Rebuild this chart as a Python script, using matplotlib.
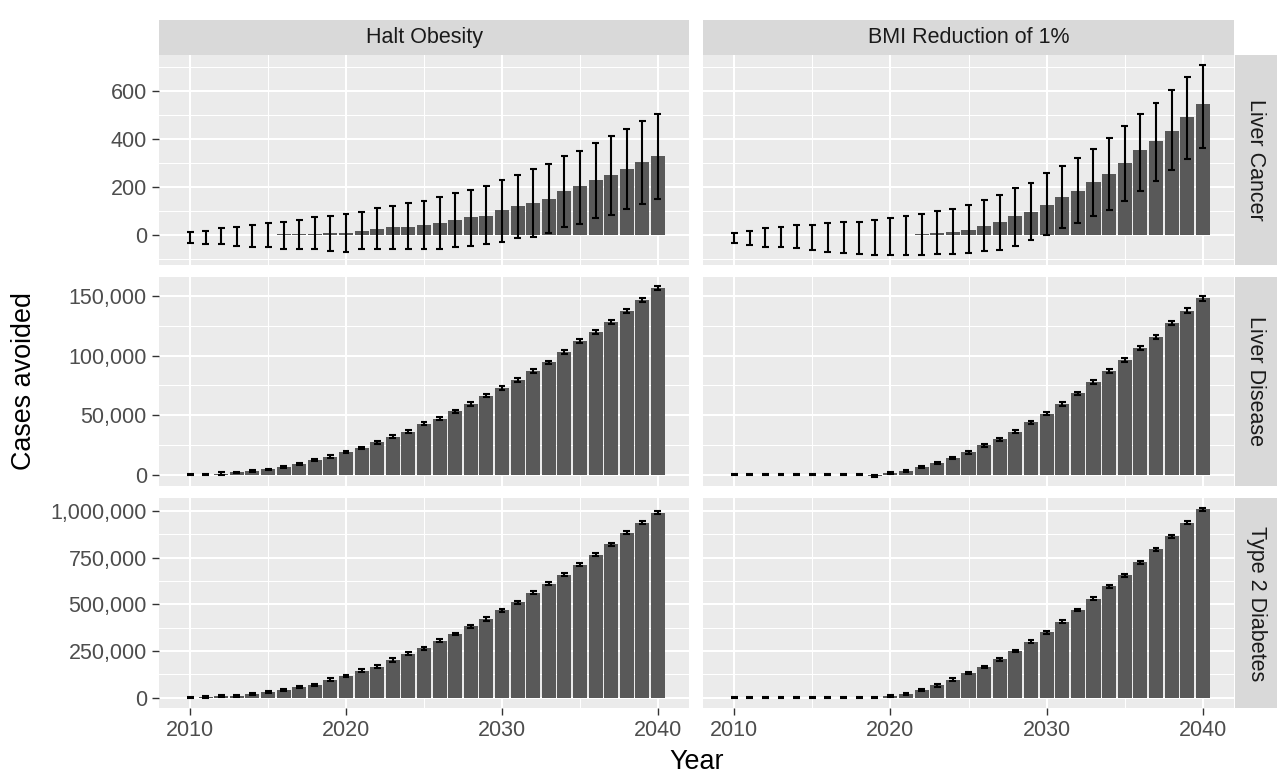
import matplotlib
matplotlib.use('Agg')
import matplotlib.pyplot as plt
from matplotlib.ticker import FuncFormatter, MultipleLocator
import numpy as np

plt.rcParams['font.family'] = ['Liberation Sans', 'DejaVu Sans']

# ---- data ----
years = np.arange(2010, 2041)

scenarios = ['Halt Obesity', 'BMI Reduction of 1%']
outcomes = ['Liver Cancer', 'Liver Disease', 'Type 2 Diabetes']

# Liver cancer: mean with explicit lower / upper interval
lc_halt = [0, 0, 0, 0, 0, 0, 3, 3, 3, 8, 8, 18, 25, 34, 34, 42, 49, 64, 74, 80,
           104, 119, 133, 151, 182, 203, 227, 250, 273, 304, 327]
lc_halt_lo = [-32, -39, -39, -46, -52, -52, -60, -60, -60, -67, -70, -60, -60, -60, -60, -60,
              -60, -50, -45, -38, -29, -11, -7, 7, 32, 46, 70, 84, 109, 129, 151]
lc_halt_hi = [11, 17, 28, 35, 42, 49, 56, 64, 73, 81, 87, 95, 111, 119, 133, 140,
              157, 173, 189, 203, 227, 250, 273, 294, 327, 351, 382, 411, 442, 473, 505]

lc_bmi = [0, 0, 0, 0, 0, 0, 0, 0, 0, 0, 0, 0, 3, 8, 14, 21, 39, 56, 81, 95,
          126, 157, 182, 220, 255, 301, 353, 390, 435, 491, 544]
lc_bmi_lo = [-35, -42, -49, -49, -56, -63, -70, -77, -81, -84, -84, -84, -84, -81, -81, -77,
             -67, -63, -45, -21, 0, 28, 49, 77, 105, 143, 182, 224, 269, 318, 362]
lc_bmi_hi = [10, 17, 28, 35, 42, 42, 49, 56, 56, 63, 70, 80, 87, 101, 109, 126,
             147, 165, 196, 217, 257, 287, 320, 358, 404, 456, 502, 550, 603, 659, 710]

# Liver disease: mean and half-width of the (narrow) interval
ld_halt = [0, 0, 1000, 2000, 3000, 4500, 6400, 9200, 12500, 15300, 19200, 22600, 27300,
           32000, 36200, 42700, 47100, 53200, 59400, 66300, 72800, 79500, 87300, 94300,
           103200, 112400, 119900, 128300, 137500, 146400, 156400]
ld_halt_err = [600, 600, 1200, 600, 600, 700, 800, 900, 1000, 1000, 1000, 1100, 1100, 1200,
               1200, 1300, 1300, 1300, 1400, 1400, 1400, 1500, 1500, 1500, 1600, 1600,
               1600, 1700, 1700, 1700, 1800]

ld_bmi = [0, 0, 0, 0, 0, 0, 0, 0, 0, -1000, 1400, 3300, 6400, 9800, 14000, 18700, 24600,
          29900, 36300, 43900, 51100, 59500, 68400, 77700, 87200, 96400, 106100, 115900,
          127100, 137700, 148000]
ld_bmi_err = [600, 600, 600, 600, 600, 600, 600, 600, 600, 700, 700, 800, 900, 1000, 1000,
              1100, 1100, 1200, 1200, 1300, 1300, 1400, 1400, 1500, 1500, 1600, 1600, 1700,
              1700, 1800, 1800]

# Type 2 diabetes
t2d_halt = [0, 5000, 9000, 9000, 20000, 30000, 41000, 59000, 68000, 95000, 116000, 145000,
            166000, 202000, 235000, 265000, 305000, 342000, 382000, 421000, 468000, 511000,
            561000, 611000, 659000, 713000, 767000, 821000, 884000, 937000, 991000]
t2d_halt_err = [4000, 6000, 4000, 4000, 5000, 5000, 6000, 6000, 7000, 8000, 7000, 8000, 7000,
                9000, 8000, 7000, 8000, 7000, 8000, 9000, 7000, 7000, 8000, 7000, 9000, 8000,
                7000, 8000, 9000, 8000, 8000]

t2d_bmi = [0, 0, 0, 0, 0, 0, 0, 0, 0, 0, 9000, 21000, 41000, 67000, 97000, 133000, 163000,
           207000, 251000, 301000, 350000, 407000, 469000, 531000, 596000, 655000, 726000,
           796000, 864000, 938000, 1009000]
t2d_bmi_err = [4000, 4000, 4000, 4000, 4000, 4000, 4000, 4000, 4000, 4000, 4000, 5000, 6000,
               8000, 8000, 7000, 6000, 8000, 7000, 6000, 7000, 8000, 7000, 8000, 8000, 7000,
               8000, 8000, 8000, 8000, 8000]


def interval(mean, err):
    m = np.array(mean, dtype=float)
    e = np.array(err, dtype=float)
    return m, m - e, m + e


panels = [
    [(np.array(lc_halt, float), np.array(lc_halt_lo, float), np.array(lc_halt_hi, float)),
     (np.array(lc_bmi, float), np.array(lc_bmi_lo, float), np.array(lc_bmi_hi, float))],
    [interval(ld_halt, ld_halt_err), interval(ld_bmi, ld_bmi_err)],
    [interval(t2d_halt, t2d_halt_err), interval(t2d_bmi, t2d_bmi_err)],
]
y_major = [200, 50000, 250000]

# ---- layout in pixels ----
W, H = 1279, 777
fig = plt.figure(figsize=(W / 100, H / 100), dpi=100)


def add_px(x0, y0, x1, y1):
    return fig.add_axes([x0 / W, 1 - y1 / H, (x1 - x0) / W, (y1 - y0) / H])


col_x = [(159, 689), (703, 1234)]
strip_top, top, bottom, gap = 20, 55, 708, 12
ph = (bottom - top - 2 * gap) / 3
row_y = [(top + i * (ph + gap), top + i * (ph + gap) + ph) for i in range(3)]

BAR = '#595959'
PANEL = '#EBEBEB'
STRIP = '#D9D9D9'
TICKC = '#4D4D4D'
FS = 15.5

x_lo = years.min() - 0.45
x_hi = years.max() + 0.45
x_pad = 0.05 * (x_hi - x_lo)

for r in range(3):
    lo_all = min(min(p[1].min(), 0) for p in panels[r])
    hi_all = max(p[2].max() for p in panels[r])
    pad = 0.05 * (hi_all - lo_all)
    for c in range(2):
        mean, lo, hi = panels[r][c]
        ax = add_px(col_x[c][0], row_y[r][0], col_x[c][1], row_y[r][1])
        ax.set_facecolor(PANEL)
        ax.bar(years, mean, width=0.9, color=BAR, zorder=2)
        ax.vlines(years, lo, hi, color='black', lw=1.5, zorder=3)
        ax.hlines(lo, years - 0.22, years + 0.22, color='black', lw=1.5, zorder=3)
        ax.hlines(hi, years - 0.22, years + 0.22, color='black', lw=1.5, zorder=3)

        ax.set_xlim(x_lo - x_pad, x_hi + x_pad)
        ax.set_ylim(lo_all - pad, hi_all + pad)
        ax.xaxis.set_major_locator(MultipleLocator(10))
        ax.xaxis.set_minor_locator(MultipleLocator(5))
        ax.yaxis.set_major_locator(MultipleLocator(y_major[r]))
        ax.yaxis.set_minor_locator(MultipleLocator(y_major[r] / 2))
        ax.yaxis.set_major_formatter(FuncFormatter(lambda v, p: f'{v:,.0f}'))
        ax.grid(which='major', color='white', lw=1.5, zorder=0)
        ax.grid(which='minor', color='white', lw=0.75, zorder=0)
        ax.set_axisbelow(True)
        for s in ax.spines.values():
            s.set_visible(False)
        ax.tick_params(which='major', length=4.8, width=1.0, color='#333333',
                       labelcolor=TICKC, labelsize=FS, pad=3.9)
        ax.tick_params(which='minor', length=0)
        if c == 1:
            ax.tick_params(axis='y', which='both', left=False, labelleft=False)
        if r < 2:
            ax.tick_params(axis='x', which='both', bottom=False, labelbottom=False)

# column strips
for c in range(2):
    s = add_px(col_x[c][0], strip_top, col_x[c][1], top)
    s.set_facecolor(STRIP)
    s.set_xticks([])
    s.set_yticks([])
    for sp in s.spines.values():
        sp.set_visible(False)
    s.text(0.5, 0.5, scenarios[c], ha='center', va='center', fontsize=FS, color='#1A1A1A',
           transform=s.transAxes)

# row strips
for r in range(3):
    s = add_px(1235, row_y[r][0], 1277, row_y[r][1])
    s.set_facecolor(STRIP)
    s.set_xticks([])
    s.set_yticks([])
    for sp in s.spines.values():
        sp.set_visible(False)
    s.text(0.5, 0.5, outcomes[r], ha='center', va='center', fontsize=FS, color='#1A1A1A',
           rotation=-90, transform=s.transAxes)

fig.text((col_x[0][0] + col_x[1][1]) / 2 / W, 1 - 762 / H, 'Year', ha='center', va='center',
         fontsize=19.4, color='black')
fig.text(24 / W, 1 - (top + bottom) / 2 / H, 'Cases avoided', ha='center', va='center',
         rotation=90, fontsize=19.4, color='black')

fig.savefig('out.png', dpi=100, facecolor='white')
